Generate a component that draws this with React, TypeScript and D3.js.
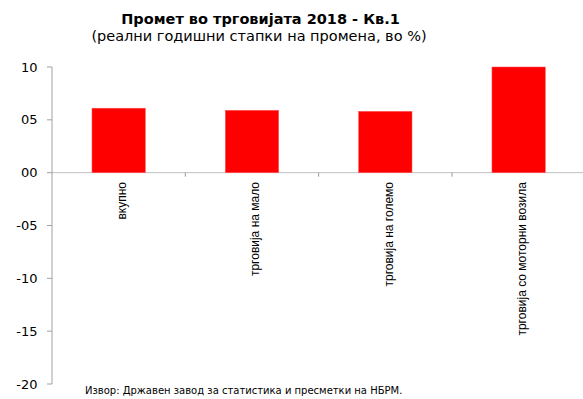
import React from "react";
import * as d3 from "d3";

const categories = ["вкупно", "трговија на мало", "трговија на големо", "трговија со моторни возила"];
const values = [6.1, 5.9, 5.8, 10.0];
const yTicks = [10, 5, 0, -5, -10, -15, -20];
const yTickLabels = ["10", "05", "00", "-05", "-10", "-15", "-20"];
const title = "Промет во трговијата 2018 - Кв.1";
const subtitle = "(реални годишни стапки на промена, во %)";
const source = "Извор: Државен завод за статистика и пресметки на НБРМ.";

export default function App() {
  const W = 583, H = 399;
  const x0 = 52, x1 = 585.3;
  const y = d3.scaleLinear().domain([-20, 10]).range([384, 67]);
  const x = d3.scaleBand<string>().domain(categories).range([x0, x1]).paddingInner(0.6).paddingOuter(0.3);
  const band = d3.scaleBand<string>().domain(categories).range([x0, x1]);
  const sans = "'DejaVu Sans', Verdana, sans-serif";
  const arial = "'Liberation Sans', Arial, sans-serif";
  return (
    <svg width={W} height={H} style={{ position: "absolute", left: 0, top: 0, background: "#fff" }}>
      <text x={260.5} y={24} textAnchor="middle" fontFamily={sans} fontWeight="bold" fontSize={14.5}>{title}</text>
      <text x={259} y={41} textAnchor="middle" fontFamily={sans} fontSize={14.5}>{subtitle}</text>
      {/* zero line */}
      <line x1={x0} x2={W} y1={y(0)} y2={y(0)} stroke="#c0c0c0" strokeWidth={1} />
      {/* bars */}
      {values.map((v, i) => (
        <rect key={i} x={x(categories[i])!} width={x.bandwidth()} y={y(Math.max(0, v))} height={Math.abs(y(v) - y(0))} fill="#ff0000" stroke="#ff5050" strokeWidth={0.5} />
      ))}
      {/* category ticks */}
      {categories.slice(1).map((c) => (
        <line key={c} x1={band(c)!} x2={band(c)!} y1={y(0)} y2={y(0) + 4} stroke="#999" />
      ))}
      {/* y axis */}
      <line x1={x0} x2={x0} y1={y(10)} y2={y(-20)} stroke="#a0a0a0" />
      {yTicks.map((t, i) => (
        <g key={t}>
          <line x1={x0 - 5} x2={x0} y1={y(t)} y2={y(t)} stroke="#a0a0a0" />
          <text x={37.5} y={y(t)} dy="0.35em" textAnchor="end" fontFamily={sans} fontSize={13}>{yTickLabels[i]}</text>
        </g>
      ))}
      {/* category labels */}
      {categories.map((c) => {
        const cx = band(c)! + band.bandwidth() / 2 + 3;
        const cy = 182;
        return (
          <text key={c} transform={`translate(${cx},${cy}) rotate(-90)`} textAnchor="end" dy="0.35em" fontFamily={arial} fontSize={12}>{c}</text>
        );
      })}
      <text x={85} y={394} fontFamily={sans} fontSize={10}>{source}</text>
    </svg>
  );
}
